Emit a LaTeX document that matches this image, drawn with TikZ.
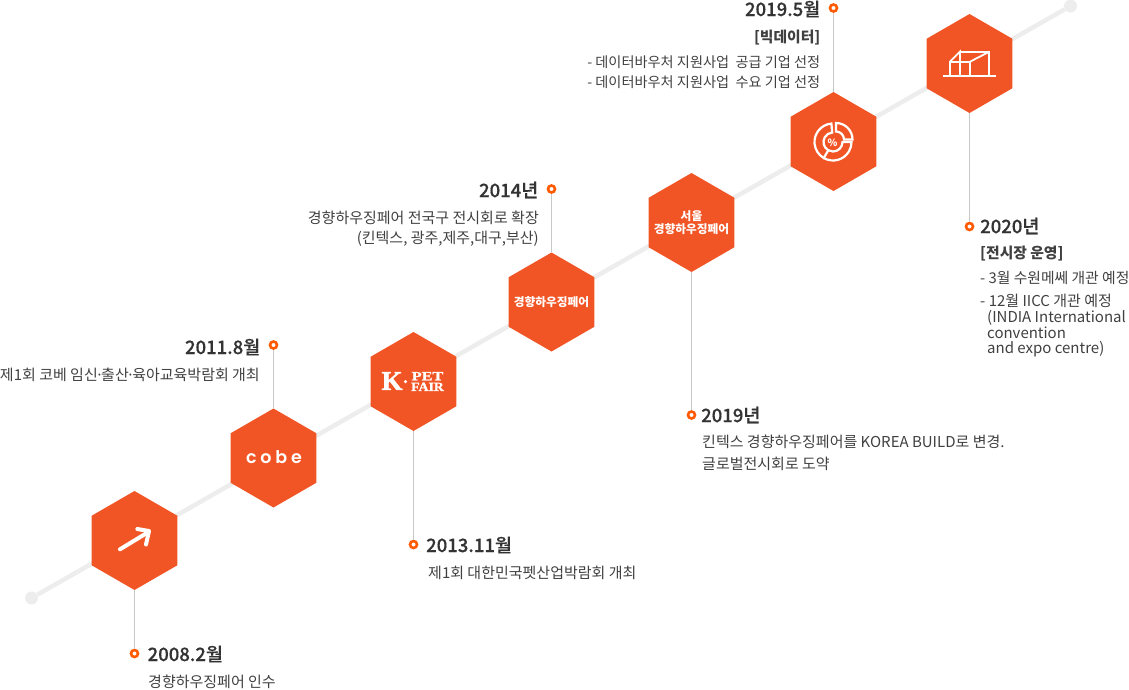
\documentclass[tikz,border=0pt]{standalone}
\usepackage{fontspec}
\setmainfont{Noto Sans CJK KR}
\newfontfamily\datefont[FakeBold=0.5]{Noto Sans CJK KR Medium}
\newfontfamily\cobefont[LetterSpace=22]{Poppins SemiBold}
\newfontfamily\slabfont[BoldFeatures={FakeBold=1.5}]{Liberation Serif}
\usetikzlibrary{shapes.geometric}
\definecolor{hexorange}{HTML}{F25525}
\definecolor{dotorange}{HTML}{FF5A00}
\definecolor{trackgray}{HTML}{EDEDED}
\definecolor{stemgray}{HTML}{C8C8C8}
\definecolor{datetext}{HTML}{333333}
\definecolor{bodytext}{HTML}{404040}
\tikzset{
  hexnode/.style={regular polygon, regular polygon sides=6, shape border rotate=30,
    minimum size=99pt, inner sep=0pt, fill=hexorange},
  hexlabel/.style={inner sep=0pt, text=white, align=center,
    font=\fontsize{11.7}{13.5}\selectfont\bfseries},
  ringdot/.style={circle, draw=dotorange, line width=2.6pt, fill=white, minimum size=7pt, inner sep=0pt},
  enddot/.style={circle, fill=trackgray, minimum size=13pt, inner sep=0pt},
  trackline/.style={draw=trackgray, line width=4.5pt},
  stemline/.style={draw=stemgray, line width=1pt},
  datelabel/.style={inner sep=0pt, text=datetext, font=\fontsize{18.5}{20}\datefont},
  bodylabel/.style={inner sep=0pt, text=bodytext, font=\fontsize{15}{20}\selectfont},
  headlabel/.style={inner sep=0pt, text=bodytext, font=\fontsize{14.8}{18}\selectfont\bfseries},
  iconline/.style={draw=white, line width=1.8pt},
  arrowline/.style={draw=white, line width=4pt, line cap=round, line join=round},
  dataline/.style={draw=white, line width=2.2pt}
}
\begin{document}
\begin{tikzpicture}[x=1pt,y=-1pt]
\useasboundingbox (0,0) rectangle (1129,689);
% track
\node[enddot] (trackstart) at (31.5,598) {};
\node[enddot] (trackend) at (1070.5,6) {};
\draw[trackline] (trackstart) -- (trackend);
% hexagons
\node[hexnode] (arrowhex) at (134.5,540.5) {};
\node[hexnode] (cobehex) at (273.5,458) {};
\node[hexnode] (kpethex) at (413.5,381.5) {};
\node[hexnode] (fairhex) at (551.5,302) {};
\node[hexnode] (seoulhex) at (691.5,222.5) {};
\node[hexnode] (datahex) at (833.5,141.5) {};
\node[hexnode] (hallhex) at (969.5,63.5) {};
\node[hexlabel] (fairname) at (551.5,302) {경향하우징페어};
\node[hexlabel] (seoulname) at (691.5,222.5) {서울\\경향하우징페어};
% dots
\node[ringdot] (dota) at (134.5,653.5) {};
\node[ringdot] (dotb) at (273.5,345) {};
\node[ringdot] (dotc) at (413.5,544.5) {};
\node[ringdot] (dotd) at (551.5,189) {};
\node[ringdot] (dote) at (691.5,415) {};
\node[ringdot] (dotf) at (833.5,8) {};
\node[ringdot] (dotg) at (969.5,226.5) {};
% stems
\draw[stemline] (arrowhex) -- (dota);
\draw[stemline] (cobehex) -- (dotb);
\draw[stemline] (kpethex) -- (dotc);
\draw[stemline] (fairhex) -- (dotd);
\draw[stemline] (seoulhex) -- (dote);
\draw[stemline] (datahex) -- (dotf);
\draw[stemline] (hallhex) -- (dotg);
% labels
\node[datelabel, anchor=west] (datea) at (147.5,654) {2008.2월};
\node[bodylabel, anchor=west] (texta) at (148,681.5) {경향하우징페어 인수};
\node[datelabel, anchor=east] (dateb) at (260.5,347) {2011.8월};
\node[bodylabel, anchor=east] (textb) at (260,375) {제1회 코베 임신\kern-2.5pt·\kern-2.5pt출산\kern-2.5pt·\kern-2.5pt육아교육박람회 개최};
\node[datelabel, anchor=west] (datec) at (426,545) {2013.11월};
\node[bodylabel, anchor=west] (textc) at (428,572.5) {제1회 대한민국펫산업박람회 개최};
\node[datelabel, anchor=east] (dated) at (538.5,190) {2014년};
\node[bodylabel, anchor=north east, align=right] (textd) at (539,211) {경향하우징페어 전국구 전시회로 확장\\(킨텍스, 광주,제주,대구,부산)};
\node[datelabel, anchor=west] (datee) at (701,415) {2019년};
\node[bodylabel, anchor=north west, align=left, font=\fontsize{15}{22}\selectfont] (texte) at (702,435) {킨텍스 경향하우징페어를 KOREA BUILD로 변경.\\글로벌전시회로 도약};
\node[datelabel, anchor=east] (datef) at (820.5,9) {2019.5월};
\node[headlabel, anchor=east] (headf) at (820.5,38) {[빅데이터]};
\node[bodylabel, anchor=north east, align=left, font=\fontsize{14.2}{20}\selectfont] (textf) at (820.5,55.5) {- 데이터바우처 지원사업 \ 공급 기업 선정\\- 데이터바우처 지원사업 \ 수요 기업 선정};
\node[datelabel, anchor=west] (dateg) at (980,226) {2020년};
\node[headlabel, anchor=west] (headg) at (980,254) {[전시장 운영]};
\node[bodylabel, anchor=west, font=\fontsize{14.8}{20}\selectfont] (textg) at (980,278) {- 3월 수원메쎄 개관 예정};
\node[bodylabel, anchor=north west, align=left, font=\fontsize{15}{15.7}\selectfont] (texth) at (980,294) {- 12월 IICC 개관 예정\\\hspace*{7pt}(INDIA International\\\hspace*{7pt}convention\\\hspace*{7pt}and expo centre)};
% icons
\draw[arrowline] (120,549.3) -- (147.3,532.7);
\draw[arrowline] (137.3,529) -- (149,531) -- (146,544.5);
\node[inner sep=0pt, text=white, font=\fontsize{17.5}{18}\cobefont] (cobelogo) at (274,457.5) {cobe};
\node[inner sep=0pt, text=white, font=\fontsize{27}{27}\slabfont\bfseries] (klogo) at (392,381) {K};
\node[inner sep=0pt, circle, fill=white, minimum size=3.5pt] (kdot) at (405.5,381.5) {};
\node[inner sep=0pt, text=white, align=center, font=\fontsize{12.5}{10.7}\slabfont\bfseries] (petlogo) at (427.5,381.5) {\scalebox{1.3}[1]{PET}\\\scalebox{1.1}[1]{FAIR}};
% data icon
\begin{scope}[shift={(833,142)}]
\draw[dataline] (95:18.5pt) arc (95:240:18.5pt) -- (240:9.5pt) arc (240:95:9.5pt) -- cycle;
\draw[dataline] (240:18.5pt) arc (240:360:18.5pt) -- (0:9.5pt) arc (360:240:9.5pt);
\end{scope}
\draw[dataline] (836,123) arc (90:0:16.5pt) -- (844,139.5) arc (0:90:8pt) -- cycle;
\node[inner sep=0pt, text=white, font=\fontsize{10}{10}\selectfont\bfseries] (percent) at (832.5,143) {\%};
% building
\coordinate (basea) at (943,76);
\coordinate (baseb) at (996,76);
\draw[iconline] (basea) -- (baseb);
\draw[iconline] (950,76) -- (950,61.7) -- (970,61.7) -- (970,76);
\draw[iconline] (950,61.7) -- (960,51.7) -- (960,76);
\draw[iconline] (960,51.7) -- (989.3,51.7) -- (989.3,76);
\draw[iconline] (970,61.7) -- (989.3,51.7);
\end{tikzpicture}
\end{document}
